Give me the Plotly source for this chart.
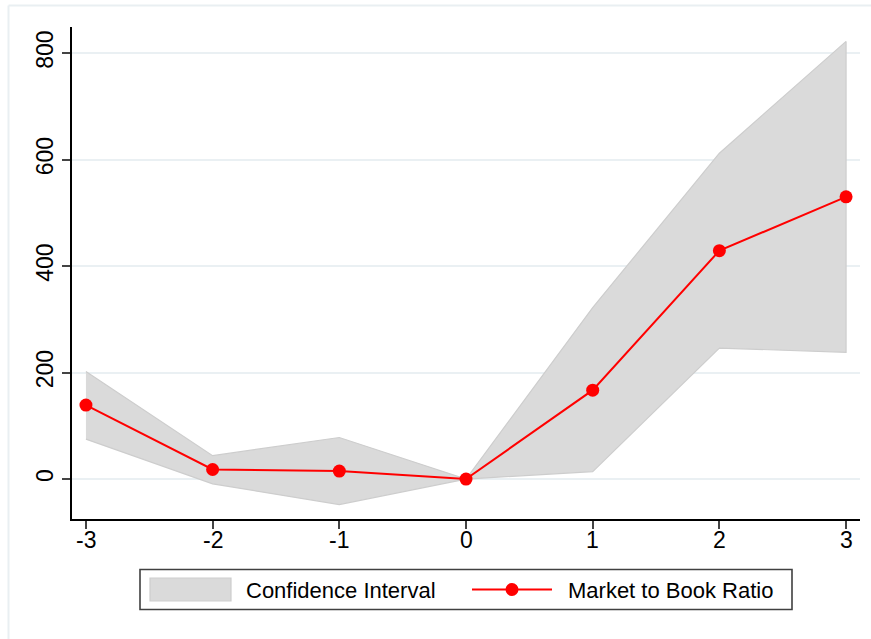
import plotly.graph_objects as go

# Event-time window and estimates
periods = [-3, -2, -1, 0, 1, 2, 3]
mtb_ratio = [139, 18, 15, 0, 167, 429, 530]
ci_upper = [202, 44, 78, 0, 322, 612, 822]
ci_lower = [75, -9, -48, 0, 14, 246, 238]

y_ticks = [0, 200, 400, 600, 800]
x_ticks = [-3, -2, -1, 0, 1, 2, 3]

W, H = 871, 639
L, R, T, B = 72, 11, 27, 120
FONT = "Liberation Sans, Arial, sans-serif"
FS_TICK = 23
FS_LEG = 22


def px(x):
    return (x - L) / (W - L - R)


def py(y):
    return (H - B - y) / (H - T - B)


fig = go.Figure()

# Confidence band as a closed polygon
fig.add_trace(go.Scatter(
    x=periods + periods[::-1],
    y=ci_upper + ci_lower[::-1],
    fill="toself",
    fillcolor="#dadada",
    line=dict(color="#cdcdcd", width=1.2),
    mode="lines",
    hoverinfo="skip",
    showlegend=False,
))

# Point estimates
fig.add_trace(go.Scatter(
    x=periods,
    y=mtb_ratio,
    mode="lines+markers",
    line=dict(color="#ff0000", width=2),
    marker=dict(color="#ff0000", size=13),
    showlegend=False,
))

shapes = []
# outer graph-region border (top and left edges)
shapes.append(dict(type="line", xref="paper", yref="paper",
                   x0=px(8.5), x1=px(W + 5), y0=py(5.5), y1=py(5.5),
                   line=dict(color="#e9eff2", width=2), layer="below"))
shapes.append(dict(type="line", xref="paper", yref="paper",
                   x0=px(8.5), x1=px(8.5), y0=py(5.5), y1=py(H + 5),
                   line=dict(color="#e9eff2", width=2), layer="below"))

# legend box
shapes.append(dict(type="rect", xref="paper", yref="paper",
                   x0=px(140), x1=px(792), y0=py(569.5), y1=py(609.5),
                   line=dict(color="#404040", width=1.6), fillcolor="white"))
# band swatch
shapes.append(dict(type="rect", xref="paper", yref="paper",
                   x0=px(150), x1=px(231), y0=py(578), y1=py(601),
                   line=dict(color="#cdcdcd", width=1.2), fillcolor="#dadada"))
# line + marker swatch
shapes.append(dict(type="line", xref="paper", yref="paper",
                   x0=px(472), x1=px(552), y0=py(589.5), y1=py(589.5),
                   line=dict(color="#ff0000", width=2)))
shapes.append(dict(type="circle", xref="paper", yref="paper",
                   x0=px(505.5), x1=px(518.5), y0=py(583), y1=py(596),
                   line=dict(color="#ff0000", width=0), fillcolor="#ff0000"))

annotations = [
    dict(text="Confidence Interval", xref="paper", yref="paper",
         x=px(244), y=py(590), xanchor="left", yanchor="middle",
         showarrow=False, font=dict(family=FONT, size=FS_LEG, color="black")),
    dict(text="Market to Book Ratio", xref="paper", yref="paper",
         x=px(566), y=py(590), xanchor="left", yanchor="middle",
         showarrow=False, font=dict(family=FONT, size=FS_LEG, color="black")),
]

# x tick labels set close under the tick marks
for v in x_ticks:
    annotations.append(dict(
        text=str(v), xref="x", yref="paper", x=v, y=py(539.5),
        xanchor="center", yanchor="middle", showarrow=False,
        font=dict(family=FONT, size=FS_TICK, color="black"),
    ))

fig.update_layout(
    width=W, height=H,
    margin=dict(l=L, r=R, t=T, b=B, pad=0),
    paper_bgcolor="white",
    plot_bgcolor="white",
    showlegend=False,
    font=dict(family=FONT, size=FS_TICK, color="black"),
    shapes=shapes,
    annotations=annotations,
)

fig.update_xaxes(
    range=[-3.11, 3.11],
    tickmode="array", tickvals=x_ticks,
    showticklabels=False,
    showgrid=False, zeroline=False,
    showline=True, linecolor="black", linewidth=1.5,
    ticks="outside", ticklen=8, tickwidth=1.5, tickcolor="#444444",
)
fig.update_yaxes(
    range=[-75, 849],
    tickmode="array", tickvals=y_ticks, ticktext=[str(v) for v in y_ticks],
    tickangle=-90,
    showgrid=True, gridcolor="#eaf0f3", gridwidth=1.5,
    zeroline=False,
    showline=True, linecolor="black", linewidth=1.5,
    ticks="outside", ticklen=8, tickwidth=1.5, tickcolor="#444444",
    tickfont=dict(family=FONT, size=FS_TICK, color="black"),
)

fig.write_html("out.html")
